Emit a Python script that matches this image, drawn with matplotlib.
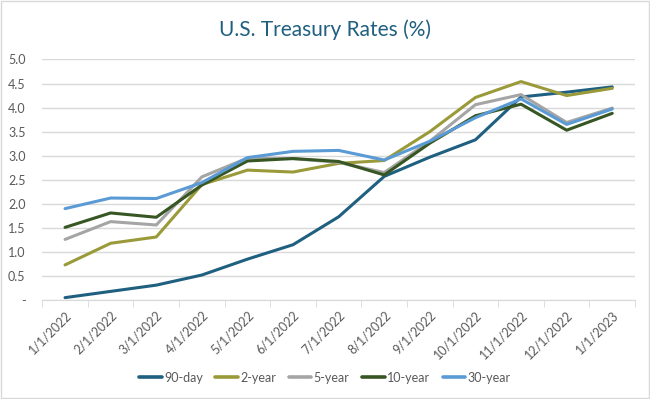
import numpy as np
import matplotlib
matplotlib.use("Agg")
import matplotlib.pyplot as plt
from matplotlib.patches import Rectangle

dates = ['1/1/2022', '2/1/2022', '3/1/2022', '4/1/2022', '5/1/2022', '6/1/2022', '7/1/2022',
         '8/1/2022', '9/1/2022', '10/1/2022', '11/1/2022', '12/1/2022', '1/1/2023']

rate_90d = [0.05, 0.18, 0.31, 0.52, 0.85, 1.15, 1.73, 2.57, 2.97, 3.33, 4.22, 4.32, 4.43]
rate_2y = [0.73, 1.18, 1.31, 2.40, 2.70, 2.66, 2.84, 2.90, 3.50, 4.21, 4.54, 4.25, 4.40]
rate_5y = [1.26, 1.63, 1.56, 2.56, 2.95, 2.94, 2.86, 2.65, 3.30, 4.06, 4.27, 3.69, 3.99]
rate_10y = [1.51, 1.81, 1.72, 2.39, 2.89, 2.94, 2.88, 2.60, 3.26, 3.83, 4.07, 3.53, 3.88]
rate_30y = [1.90, 2.12, 2.11, 2.44, 2.96, 3.09, 3.11, 2.91, 3.30, 3.79, 4.18, 3.65, 3.97]

series = [
    ('90-day', rate_90d, '#1f5f80'),
    ('2-year', rate_2y, '#9a9a3a'),
    ('5-year', rate_5y, '#a5a5a5'),
    ('10-year', rate_10y, '#375623'),
    ('30-year', rate_30y, '#5b9bd5'),
]

plt.rcParams['font.family'] = ['Lato', 'DejaVu Sans']

fig = plt.figure(figsize=(6.5, 3.99), dpi=100)
ax = fig.add_axes([0.065, 0.248, 0.912, 0.603])

x = np.arange(len(dates))
for name, vals, col in series:
    ax.plot(x, vals, color=col, lw=2.2, label=name, solid_capstyle='round')

ax.set_xlim(-0.5, len(dates) - 0.5)
ax.set_ylim(0, 5.0)
yt = np.arange(0, 5.01, 0.5)
ax.set_yticks(yt)
ax.set_yticklabels(['-'] + [f"{v:.1f}" for v in yt[1:]], fontsize=9, color='#595959')
ax.yaxis.grid(True, color='#d9d9d9', lw=1)
ax.set_axisbelow(True)
ax.tick_params(axis='y', length=0, pad=12)

ax.set_xticks(x)
ax.set_xticklabels(dates, rotation=45, ha='right', rotation_mode='anchor',
                   fontsize=9, color='#595959')
ax.set_xticks(np.arange(-0.5, len(dates)), minor=True)
ax.tick_params(axis='x', which='major', length=0, pad=6)
ax.tick_params(axis='x', which='minor', length=5, color='#d9d9d9')

for s in ['top', 'right', 'left']:
    ax.spines[s].set_visible(False)
ax.spines['bottom'].set_color('#d9d9d9')

fig.text(0.5, 0.925, 'U.S. Treasury Rates (%)', ha='center', va='center',
         fontsize=15, color='#1f5f80')

leg = fig.legend(loc='center', bbox_to_anchor=(0.5, 0.053), ncol=5, frameon=False,
                 fontsize=9, handlelength=1.8, handletextpad=0.2, columnspacing=1.0,
                 labelcolor='#595959')
for h in leg.get_lines():
    h.set_linewidth(2.6)

fig.patches.append(Rectangle((0.002, 0.003), 0.996, 0.994, transform=fig.transFigure,
                             fill=False, edgecolor='#d9d9d9', lw=1))

fig.savefig('out.png', dpi=100, facecolor='white')
